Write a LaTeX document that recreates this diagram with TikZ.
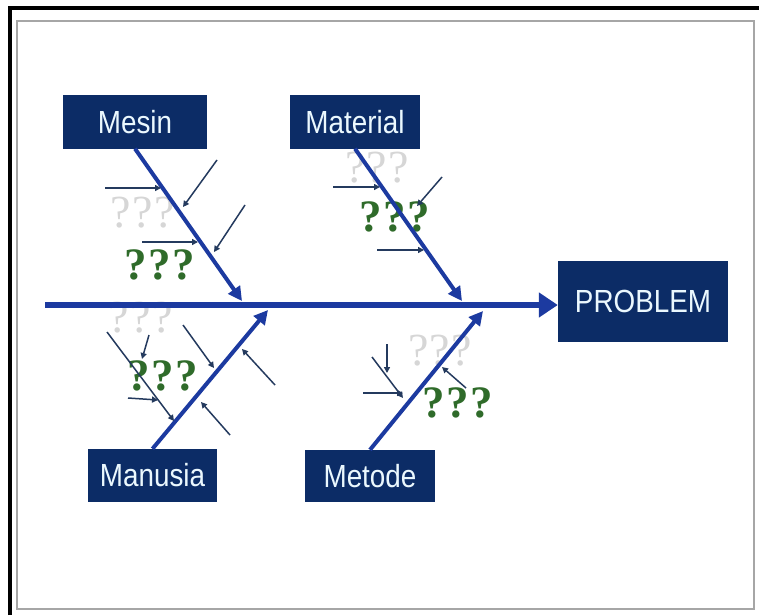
\documentclass[tikz,border=0pt]{standalone}
\usepackage{fontspec}
\setmainfont{Liberation Serif}
\newfontfamily\boxfont[FakeStretch=0.87]{Liberation Sans}
\newfontfamily\qfont[LetterSpace=3]{Liberation Serif}
\usetikzlibrary{arrows.meta}
\definecolor{navy}{HTML}{0C2C66}
\definecolor{bone}{HTML}{1C3AA0}
\definecolor{twigc}{HTML}{243A5E}
\definecolor{qgreen}{HTML}{2F6B2A}
\definecolor{ghost}{HTML}{D6D6D6}
\tikzset{
  cat/.style={fill=navy, text=white!92!cyan, inner sep=0pt, font=\boxfont\fontsize{32}{34}\selectfont},
  spinearrow/.style={draw=bone, line width=5.5pt, -{Triangle[length=19pt,width=24pt]}},
  bonearrow/.style={draw=bone, line width=4pt, -{Triangle[length=14pt,width=14pt]}},
  twig/.style={draw=twigc, line width=1.5pt, -{Triangle[length=6pt,width=6pt]}},
  ghostq/.style={text=ghost, font=\qfont\fontsize{46}{48}\selectfont},
  greenq/.style={text=qgreen, font=\qfont\bfseries\fontsize{45}{47}\selectfont},
}
\begin{document}
\begin{tikzpicture}[x=1pt,y=-1pt]
\useasboundingbox (0,0) rectangle (759,615);
\fill[white] (0,0) rectangle (759,615);
% frames
\draw[black, line width=4pt] (10,615) -- (10,8) -- (759,8);
\draw[black!35, line width=2pt] (17,21) rectangle (754,609);

% boxes
\node[cat, minimum width=144pt, minimum height=53pt] (mesin) at (135,122) {Mesin};
\node[cat, minimum width=130pt, minimum height=53pt] (material) at (355,122) {Material};
\node[cat, minimum width=129pt, minimum height=53pt] (manusia) at (152.5,475.5) {Manusia};
\node[cat, minimum width=130pt, minimum height=52pt] (metode) at (370,476) {Metode};
\node[cat, minimum width=170pt, minimum height=81pt] (prob) at (643,301.5) {PROBLEM};

% question marks (behind lines)
\node[ghostq] (g1) at (143,213) {???};
\node[greenq] (q1) at (160,265) {???};
\node[ghostq] (g2) at (377,168) {???};
\node[greenq] (q2) at (395,217) {???};
\node[ghostq] (g3) at (141,318) {???};
\node[greenq] (q3) at (163,376) {???};
\node[ghostq] (g4) at (440,351) {???};
\node[greenq] (q4) at (458,403) {???};

% spine
\coordinate (sp0) at (45,305);
\draw[spinearrow] (sp0) -- (prob.west |- sp0);

% bones
\coordinate (t1) at (242,301);
\coordinate (t2) at (462,301);
\coordinate (t3) at (268,310);
\coordinate (t4) at (483,311);
\draw[bonearrow] (mesin.south) -- (t1);
\draw[bonearrow] (material.south) -- (t2);
\draw[bonearrow] (manusia.north) -- (t3);
\draw[bonearrow] (metode.north) -- (t4);

% twigs: Mesin
\coordinate (a1) at (105,188); \coordinate (b1) at (161,188);
\coordinate (a2) at (217,160); \coordinate (b2) at (183,207);
\coordinate (a3) at (142,242); \coordinate (b3) at (198,242);
\coordinate (a4) at (245,205); \coordinate (b4) at (214,252);
% Material
\coordinate (a5) at (333,187); \coordinate (b5) at (380,187);
\coordinate (a6) at (442,177); \coordinate (b6) at (417,206);
\coordinate (a7) at (377,250); \coordinate (b7) at (424,250);
% Manusia
\coordinate (a8) at (107,332); \coordinate (b8) at (174,421);
\coordinate (a9) at (149,335); \coordinate (b9) at (142,359);
\coordinate (a10) at (183,325); \coordinate (b10) at (214,368);
\coordinate (a11) at (128,398); \coordinate (b11) at (158,400);
\coordinate (a12) at (275,385); \coordinate (b12) at (242,349);
\coordinate (a13) at (230,435); \coordinate (b13) at (201,402);
% Metode
\coordinate (a14) at (387,344); \coordinate (b14) at (387,373);
\coordinate (a15) at (372,357); \coordinate (b15) at (403,398);
\coordinate (a16) at (363,393); \coordinate (b16) at (403,393);
\coordinate (a17) at (466,388); \coordinate (b17) at (442,367);
\foreach \i in {1,...,17} { \draw[twig] (a\i) -- (b\i); }
\end{tikzpicture}
\end{document}
